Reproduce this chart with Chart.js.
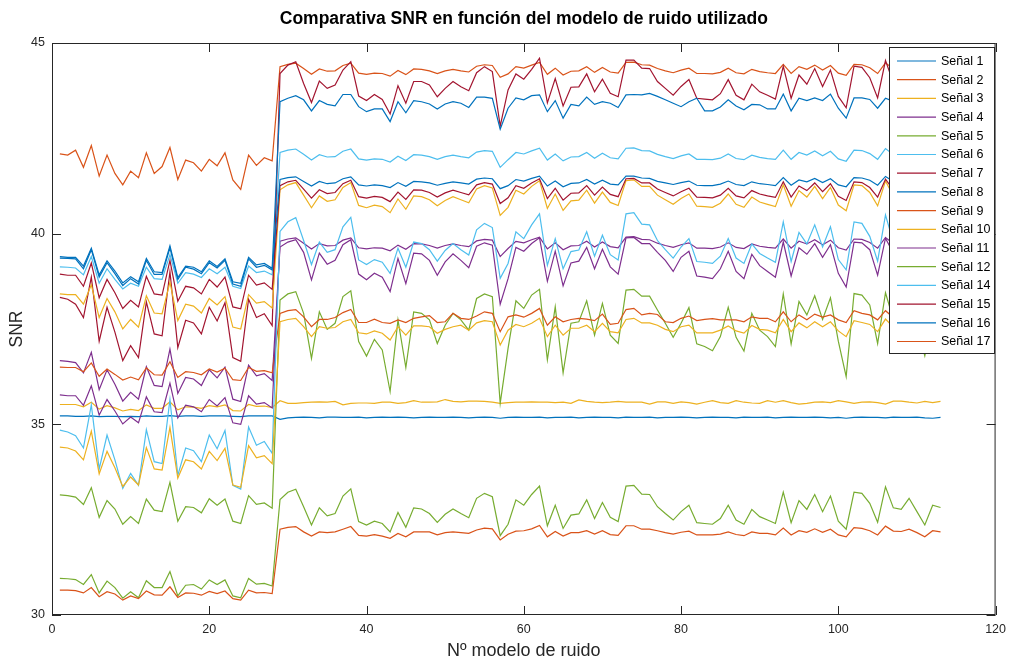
<!DOCTYPE html>
<html lang="es">
<head>
<meta charset="UTF-8">
<title>Comparativa SNR</title>
<script src="https://cdn.jsdelivr.net/npm/chart.js"></script>
<style>
  html, body { margin: 0; padding: 0; background: #fff; }
</style>
</head>
<body>
<canvas id="snrChart" width="1013" height="662"></canvas>
<script>
const FUENTE = '"Liberation Sans", Arial, Helvetica, sans-serif';
const titulo = 'Comparativa SNR en función del modelo de ruido utilizado';

// modelo de ruido 1..113
const modelos = Array.from({length: 113}, (_, i) => i + 1);

const senal1 = [35.22,35.22,35.21,35.21,35.22,35.20,35.21,35.21,35.20,35.21,35.20,35.22,35.21,35.21,35.23,35.21,35.22,35.22,35.21,35.22,35.22,35.22,35.21,35.20,35.22,35.22,35.22,35.22,
  35.13,35.17,35.18,35.19,35.18,35.17,35.19,35.19,35.18,35.18,35.19,35.17,35.18,35.19,35.18,35.19,35.18,35.17,35.18,35.19,
  35.18,35.18,35.19,35.18,35.17,35.18,35.19,35.18,35.16,35.18,35.19,35.18,35.18,35.19,35.17,35.18,35.18,35.19,35.17,35.18,
  35.19,35.18,35.18,35.17,35.19,35.18,35.18,35.19,35.17,35.18,35.18,35.19,35.18,35.17,35.18,35.19,35.18,35.18,35.17,35.19,
  35.18,35.18,35.19,35.17,35.18,35.19,35.18,35.18,35.19,35.18,35.17,35.18,35.16,35.18,35.19,35.18,35.18,35.17,35.19,35.18,
  35.18,35.19,35.17,35.16,35.18];
const senal2 = [42.09,42.06,42.19,41.74,42.31,41.51,42.06,41.58,41.28,41.64,41.47,42.12,41.58,41.76,42.26,41.42,41.93,41.86,41.64,41.95,41.78,42.12,41.41,41.16,42.06,41.79,41.99,41.91,
  44.38,44.44,44.47,44.33,44.18,44.32,44.26,44.27,44.41,44.47,44.21,44.18,44.21,44.20,44.13,44.28,44.17,44.32,44.31,44.27,
  44.20,44.27,44.31,44.27,44.24,44.39,44.43,44.41,44.10,44.19,44.38,44.34,44.42,44.49,44.18,44.34,44.16,44.26,44.27,44.38,
  44.23,44.36,44.24,44.21,44.49,44.50,44.43,44.42,44.33,44.27,44.22,44.29,44.34,44.20,44.20,44.19,44.23,44.34,44.22,44.19,
  44.31,44.25,44.22,44.20,44.44,44.20,44.38,44.31,44.42,44.29,44.41,44.21,44.15,44.44,44.43,44.35,44.20,44.48,44.32,44.31,
  44.39,44.29,44.18,44.34,44.32];
const senal3 = [35.52,35.52,35.52,35.46,35.58,35.40,35.49,35.43,35.35,35.39,35.36,35.51,35.42,35.42,35.59,35.38,35.46,35.45,35.42,35.49,35.46,35.51,35.36,35.35,35.52,35.47,35.48,35.44,
  35.62,35.55,35.55,35.57,35.58,35.59,35.58,35.60,35.51,35.55,35.56,35.56,35.55,35.58,35.58,35.55,35.57,35.62,35.58,35.58,
  35.59,35.65,35.60,35.59,35.61,35.61,35.60,35.58,35.55,35.57,35.58,35.58,35.59,35.58,35.58,35.57,35.58,35.55,35.64,35.60,
  35.58,35.57,35.58,35.60,35.58,35.58,35.58,35.53,35.59,35.59,35.55,35.59,35.57,35.53,35.58,35.62,35.57,35.55,35.62,35.58,
  35.56,35.55,35.62,35.58,35.62,35.57,35.53,35.55,35.58,35.59,35.57,35.62,35.59,35.55,35.58,35.59,35.57,35.53,35.61,35.61,
  35.58,35.56,35.60,35.57,35.60];
const senal4 = [36.67,36.65,36.62,36.35,36.89,35.91,36.43,36.05,35.61,35.84,35.66,36.51,36.02,35.99,36.97,35.81,36.23,36.19,36.02,36.43,36.22,36.50,35.66,35.60,36.55,36.27,36.33,36.15,
  39.65,39.78,39.84,39.51,38.79,39.49,39.20,39.30,39.71,39.84,38.94,38.79,38.96,38.86,38.48,39.35,38.69,39.49,39.47,39.30,
  38.91,39.26,39.47,39.30,39.11,39.67,39.76,39.70,38.15,38.82,39.64,39.54,39.74,39.89,38.75,39.54,38.63,39.23,39.28,39.64,
  39.08,39.59,39.13,38.94,39.89,39.90,39.74,39.74,39.51,39.30,39.01,39.38,39.54,38.89,38.86,38.82,39.08,39.54,39.01,38.82,
  39.46,39.16,39.01,38.86,39.78,38.89,39.63,39.46,39.74,39.38,39.71,38.96,38.60,39.78,39.76,39.58,38.91,39.88,39.49,39.46,
  39.67,39.38,38.79,39.54,39.50];
const senal5 = [33.15,33.13,33.09,32.90,33.34,32.56,33.00,32.78,32.38,32.58,32.40,33.04,32.75,32.71,33.48,32.46,32.84,32.82,32.68,33.05,32.88,33.04,32.46,32.40,33.13,32.90,32.94,32.80,
  38.26,38.42,38.48,37.91,36.73,37.95,37.49,37.65,38.35,38.50,37.17,36.79,37.23,36.95,35.86,37.74,36.49,37.95,37.91,37.74,
  37.12,37.60,37.91,37.74,37.47,38.30,38.42,38.35,35.55,36.99,38.24,38.04,38.39,38.54,36.69,38.08,36.35,37.65,37.69,38.24,
  37.34,38.17,37.34,37.12,38.52,38.54,38.36,38.36,38.00,37.65,37.28,37.65,38.06,37.11,37.04,36.93,37.30,38.07,37.28,36.92,
  37.91,37.47,37.30,37.04,38.42,37.11,38.22,37.87,38.37,37.75,38.32,37.18,36.25,38.43,38.39,38.13,37.12,38.45,37.75,37.70,
  38.05,37.60,36.80,37.85,37.75];
const senal6 = [39.13,39.12,39.10,38.92,39.40,38.70,39.08,38.80,38.55,38.70,38.62,39.12,38.82,38.80,39.45,38.70,38.98,38.94,38.85,39.08,38.95,39.12,38.62,38.56,39.15,38.98,39.02,38.92,
  42.13,42.19,42.22,42.08,41.93,42.07,42.01,42.02,42.16,42.22,41.96,41.93,41.96,41.95,41.88,42.03,41.92,42.07,42.06,42.02,
  41.95,42.02,42.06,42.02,41.99,42.14,42.18,42.16,41.74,41.94,42.13,42.09,42.17,42.24,41.93,42.09,41.91,42.01,42.02,42.13,
  41.98,42.11,41.99,41.96,42.24,42.25,42.18,42.17,42.08,42.02,41.97,42.04,42.09,41.95,41.95,41.94,41.98,42.09,41.97,41.94,
  42.06,42.00,41.97,41.95,42.19,41.95,42.13,42.06,42.17,42.04,42.16,41.96,41.90,42.19,42.18,42.10,41.95,42.23,42.07,42.06,
  42.14,42.04,41.93,42.09,42.07];
const senal7 = [38.33,38.28,38.15,37.80,38.86,37.18,38.07,37.42,36.67,37.06,36.75,38.21,37.37,37.32,39.00,37.01,37.73,37.66,37.37,38.07,37.71,38.19,36.75,36.65,38.28,37.80,37.90,37.59,
  44.20,44.42,44.51,43.94,43.44,44.00,43.81,43.90,44.29,44.51,43.61,43.49,43.65,43.52,43.14,43.88,43.42,43.99,43.99,43.90,
  43.59,43.81,43.99,43.85,43.75,44.22,44.38,44.25,42.82,43.77,44.19,44.05,44.31,44.60,43.43,44.07,43.35,43.84,43.85,44.19,
  43.72,44.05,43.68,43.59,44.55,44.55,44.34,44.33,43.99,43.81,43.63,43.86,44.04,43.55,43.53,43.51,43.67,44.04,43.63,43.51,
  43.92,43.72,43.63,43.53,44.39,43.55,44.16,43.92,44.33,43.86,44.29,43.60,43.30,44.39,44.36,44.09,43.56,44.54,43.96,43.92,
  44.23,43.86,43.49,44.04,43.97];
const senal8 = [39.40,39.38,39.38,39.15,39.62,38.92,39.29,39.02,38.71,38.87,38.74,39.35,39.00,38.98,39.68,38.85,39.15,39.12,39.00,39.29,39.14,39.34,38.74,38.70,39.38,39.18,39.22,39.09,
  43.46,43.55,43.62,43.51,43.22,43.49,43.39,43.35,43.65,43.65,43.33,43.20,43.27,43.27,42.94,43.46,43.17,43.49,43.46,43.40,
  43.27,43.40,43.46,43.42,43.31,43.58,43.58,43.55,42.74,43.29,43.56,43.51,43.62,43.64,43.20,43.49,43.03,43.39,43.35,43.58,
  43.39,43.46,43.42,43.31,43.64,43.65,43.64,43.68,43.60,43.51,43.42,43.33,43.46,43.55,43.22,43.22,43.32,43.51,43.35,43.25,
  43.39,43.38,43.27,43.27,43.66,43.22,43.55,43.49,43.56,43.49,43.66,43.29,43.03,43.56,43.56,43.52,43.29,43.55,43.47,43.46,
  43.57,43.43,43.29,43.50,43.48];
const senal9 = [36.50,36.49,36.49,36.38,36.61,36.26,36.45,36.31,36.16,36.24,36.17,36.48,36.30,36.29,36.64,36.23,36.38,36.36,36.30,36.45,36.37,36.47,36.17,36.15,36.49,36.39,36.41,36.35,
  37.91,37.98,38.01,37.82,37.56,37.75,37.75,37.80,37.93,38.01,37.67,37.67,37.76,37.67,37.65,37.74,37.67,37.78,37.82,37.85,
  37.67,37.69,37.91,37.78,37.75,37.84,37.95,37.91,37.43,37.82,37.87,37.81,37.91,38.04,37.60,37.82,37.69,37.75,37.78,37.76,
  37.72,37.89,37.62,37.65,38.01,38.04,37.87,37.91,37.88,37.69,37.67,37.78,37.84,37.72,37.75,37.77,37.74,37.74,37.74,37.69,
  37.82,37.78,37.78,37.69,37.95,37.69,37.87,37.74,37.89,37.81,37.87,37.74,37.67,37.98,37.91,37.87,37.74,37.98,37.80,37.78,
  37.88,37.76,37.65,37.82,37.80];
const senal10 = [38.42,38.40,38.40,38.15,38.66,37.80,38.30,37.95,37.50,37.75,37.55,38.37,37.92,37.90,38.73,37.72,38.15,38.10,37.92,38.30,38.13,38.35,37.55,37.50,38.40,38.18,38.22,38.05,
  41.15,41.28,41.34,41.01,40.68,40.99,40.85,40.89,41.21,41.34,40.74,40.68,40.75,40.71,40.55,40.91,40.64,40.99,40.97,40.89,
  40.73,40.87,40.97,40.89,40.81,41.17,41.26,41.20,40.48,40.69,41.14,41.04,41.24,41.39,40.66,41.04,40.61,40.86,40.88,41.14,
  40.80,41.09,40.82,40.74,41.39,41.41,41.24,41.24,41.01,40.89,40.77,40.92,41.04,40.72,40.71,40.69,40.80,41.04,40.77,40.69,
  40.96,40.83,40.77,40.71,41.28,40.72,41.13,40.96,41.24,40.92,41.21,40.75,40.60,41.28,41.26,41.08,40.73,41.38,40.99,40.96,
  41.17,40.92,40.68,41.04,41.00];
const senal11 = [35.77,35.75,35.75,35.50,36.01,35.24,35.65,35.35,35.01,35.19,35.04,35.72,35.33,35.31,36.08,35.17,35.50,35.46,35.33,35.65,35.48,35.70,35.04,35.00,35.75,35.53,35.57,35.43,
  39.80,39.86,39.89,39.75,39.60,39.74,39.68,39.69,39.83,39.89,39.63,39.60,39.63,39.62,39.55,39.70,39.59,39.74,39.73,39.69,
  39.62,39.69,39.73,39.69,39.66,39.81,39.85,39.83,39.40,39.61,39.80,39.76,39.84,39.91,39.60,39.76,39.58,39.68,39.69,39.80,
  39.65,39.78,39.66,39.63,39.91,39.92,39.85,39.84,39.75,39.69,39.64,39.71,39.76,39.62,39.62,39.61,39.65,39.76,39.64,39.61,
  39.73,39.67,39.64,39.62,39.86,39.62,39.80,39.73,39.84,39.71,39.83,39.63,39.57,39.86,39.85,39.77,39.62,39.90,39.74,39.73,
  39.81,39.71,39.60,39.76,39.74];
const senal12 = [30.96,30.95,30.93,30.80,31.06,30.58,30.89,30.72,30.44,30.61,30.45,30.90,30.72,30.72,31.14,30.50,30.78,30.80,30.68,30.92,30.80,30.92,30.50,30.45,30.96,30.81,30.83,30.76,
  33.03,33.22,33.30,32.84,32.36,32.81,32.60,32.66,33.12,33.31,32.45,32.36,32.46,32.40,32.18,32.69,32.30,32.81,32.78,32.66,
  32.43,32.64,32.78,32.66,32.55,33.06,33.19,33.10,32.08,32.38,33.02,32.88,33.16,33.38,32.34,32.88,32.27,32.62,32.65,33.02,
  32.53,32.95,32.56,32.45,33.38,33.40,33.17,33.16,32.84,32.66,32.49,32.71,32.88,32.42,32.40,32.38,32.53,32.88,32.49,32.38,
  32.77,32.58,32.49,32.40,33.22,32.42,33.00,32.77,33.16,32.71,33.12,32.46,32.25,33.22,33.19,32.93,32.43,33.36,32.81,32.77,
  33.06,32.71,32.36,32.88,32.82];
const senal14 = [34.85,34.80,34.70,34.38,35.51,33.83,34.72,34.07,33.32,33.71,33.40,34.86,34.02,33.97,35.65,33.66,34.38,34.31,34.02,34.72,34.36,34.84,33.40,33.30,34.93,34.45,34.55,34.24,
  40.06,40.31,40.42,39.82,39.19,39.78,39.51,39.58,40.18,40.43,39.31,39.19,39.32,39.25,38.96,39.62,39.12,39.78,39.74,39.58,
  39.28,39.56,39.74,39.58,39.44,40.10,40.27,40.16,38.83,39.22,40.05,39.87,40.23,40.52,39.17,39.87,39.08,39.53,39.57,40.05,
  39.41,39.96,39.45,39.31,40.52,40.55,40.25,40.23,39.82,39.58,39.36,39.65,39.87,39.27,39.25,39.22,39.41,39.87,39.36,39.22,
  39.73,39.48,39.36,39.25,40.31,39.27,40.03,39.73,40.23,39.65,40.18,39.32,39.05,40.31,40.27,39.93,39.28,40.49,39.78,39.73,
  40.10,39.65,39.19,39.87,39.79];
const senal15 = [38.94,38.91,38.91,38.62,39.23,38.32,38.80,38.45,38.04,38.25,38.08,38.88,38.42,38.39,39.30,38.23,38.62,38.58,38.42,38.80,38.60,38.86,38.08,38.03,38.91,38.65,38.71,38.54,
  41.26,41.36,41.40,41.17,40.93,41.15,41.05,41.08,41.31,41.40,40.97,40.93,40.98,40.95,40.84,41.09,40.90,41.15,41.14,41.08,
  40.96,41.07,41.14,41.08,41.02,41.28,41.34,41.30,40.79,40.94,41.26,41.19,41.33,41.44,40.92,41.19,40.88,41.06,41.07,41.26,
  41.01,41.22,41.03,40.97,41.44,41.45,41.33,41.33,41.17,41.08,40.99,41.10,41.19,40.96,40.95,40.94,41.01,41.19,40.99,40.94,
  41.13,41.04,40.99,40.95,41.36,40.96,41.25,41.13,41.33,41.10,41.31,40.98,40.87,41.36,41.34,41.21,40.96,41.43,41.15,41.13,
  41.28,41.10,40.93,41.19,41.16];
const senal16 = [39.36,39.35,39.34,39.08,39.58,38.86,39.24,38.95,38.64,38.82,38.68,39.30,38.93,38.93,39.63,38.80,39.12,39.07,38.95,39.24,39.10,39.30,38.68,38.62,39.34,39.12,39.17,39.05,
  41.42,41.47,41.49,41.37,41.25,41.37,41.31,41.33,41.44,41.49,41.28,41.25,41.28,41.26,41.21,41.34,41.24,41.37,41.36,41.33,
  41.27,41.32,41.36,41.33,41.30,41.43,41.46,41.44,41.18,41.26,41.42,41.38,41.45,41.51,41.25,41.38,41.23,41.32,41.33,41.42,
  41.30,41.40,41.30,41.28,41.51,41.51,41.46,41.45,41.37,41.33,41.29,41.34,41.38,41.27,41.26,41.26,41.30,41.38,41.29,41.26,
  41.36,41.31,41.29,41.26,41.47,41.27,41.41,41.36,41.45,41.34,41.44,41.28,41.23,41.47,41.46,41.40,41.27,41.50,41.37,41.36,
  41.43,41.34,41.25,41.38,41.37];
const senal17 = [30.65,30.65,30.64,30.58,30.72,30.48,30.61,30.55,30.39,30.50,30.43,30.63,30.53,30.52,30.74,30.46,30.58,30.57,30.52,30.62,30.56,30.63,30.43,30.39,30.65,30.58,30.59,30.56,
  32.25,32.30,32.32,32.18,32.07,32.18,32.16,32.18,32.25,32.32,32.09,32.07,32.11,32.07,32.01,32.14,32.05,32.18,32.18,32.18,
  32.10,32.16,32.18,32.16,32.14,32.23,32.28,32.26,31.97,32.12,32.20,32.21,32.26,32.35,32.05,32.19,32.07,32.16,32.16,32.21,
  32.12,32.21,32.11,32.09,32.34,32.34,32.25,32.25,32.21,32.16,32.12,32.17,32.20,32.10,32.10,32.10,32.12,32.18,32.11,32.08,
  32.18,32.14,32.14,32.10,32.28,32.10,32.21,32.17,32.26,32.17,32.25,32.10,32.05,32.29,32.27,32.21,32.10,32.33,32.20,32.19,
  32.25,32.16,32.05,32.21,32.18];
// curva 17 del gráfico: sin nombre en la leyenda
const senalExtra = [34.40,34.38,34.30,34.07,34.82,33.70,34.29,33.86,33.37,33.62,33.41,34.39,33.83,33.80,34.92,33.59,34.07,34.02,33.83,34.29,34.05,34.37,33.41,33.35,34.44,34.12,34.18,33.97,
  37.69,37.75,37.78,37.56,37.30,37.56,37.52,37.54,37.69,37.75,37.40,37.37,37.45,37.39,37.21,37.56,37.34,37.58,37.58,37.56,
  37.39,37.49,37.56,37.60,37.47,37.66,37.72,37.69,37.08,37.47,37.62,37.56,37.65,37.78,37.30,37.60,37.34,37.52,37.52,37.60,
  37.43,37.65,37.43,37.40,37.75,37.78,37.66,37.66,37.60,37.49,37.43,37.56,37.60,37.40,37.40,37.40,37.47,37.58,37.45,37.39,
  37.59,37.49,37.47,37.40,37.75,37.43,37.66,37.53,37.69,37.56,37.69,37.45,37.30,37.72,37.67,37.62,37.43,37.76,37.55,37.53,
  37.66,37.50,37.35,37.58,37.55];

const series = [senal1, senal2, senal3, senal4, senal5, senal6, senal7, senal8, senal9, senal10,
  senal11, senal12, senal14, senal15, senal16, senal17, senalExtra];
const nombres = ['Señal 1', 'Señal 2', 'Señal 3', 'Señal 4', 'Señal 5', 'Señal 6', 'Señal 7', 'Señal 8',
  'Señal 9', 'Señal 10', 'Señal 11', 'Señal 12', 'Señal 14', 'Señal 15', 'Señal 16', 'Señal 17', ''];
// orden de colores de MATLAB
const colores = ['#0072BD', '#D95319', '#EDB120', '#7E2F8E', '#77AC30', '#4DBEEE', '#A2142F'];

series.forEach((s, i) => {
  if (s.length !== modelos.length) throw new Error('serie ' + i + ' tiene ' + s.length + ' valores');
});

const datasets = series.map((s, i) => ({
  label: nombres[i],
  data: s.map((v, j) => ({x: modelos[j], y: v})),
  borderColor: colores[i % 7],
  backgroundColor: colores[i % 7],
  borderWidth: 1.2,
  pointRadius: 0,
  tension: 0,
  order: -i // las últimas curvas quedan encima, como en MATLAB
}));

// marco, ticks hacia dentro, título y leyenda estilo MATLAB
const estiloMatlab = {
  id: 'estiloMatlab',
  afterDatasetsDraw(chart) {
    const {ctx, chartArea: a, scales} = chart;
    ctx.save();
    ctx.strokeStyle = '#262626';
    ctx.lineWidth = 1;
    ctx.strokeRect(a.left + 0.5, a.top + 0.5, a.width - 1, a.height - 1);
    ctx.beginPath();
    scales.x.ticks.forEach(t => {
      const px = Math.round(scales.x.getPixelForValue(t.value)) + 0.5;
      ctx.moveTo(px, a.bottom); ctx.lineTo(px, a.bottom - 9);
      ctx.moveTo(px, a.top); ctx.lineTo(px, a.top + 9);
    });
    scales.y.ticks.forEach(t => {
      const py = Math.round(scales.y.getPixelForValue(t.value)) + 0.5;
      ctx.moveTo(a.left, py); ctx.lineTo(a.left + 9, py);
      ctx.moveTo(a.right, py); ctx.lineTo(a.right - 9, py);
    });
    ctx.stroke();

    // título
    ctx.fillStyle = '#000';
    ctx.font = 'bold 17.5px ' + FUENTE;
    ctx.textAlign = 'center';
    ctx.textBaseline = 'middle';
    ctx.fillText(titulo, (a.left + a.right) / 2, 19);

    // leyenda
    const caja = {x: 889.5, y: 47.5, w: 105, h: 306};
    ctx.fillStyle = '#fff';
    ctx.fillRect(caja.x, caja.y, caja.w, caja.h);
    ctx.strokeStyle = '#262626';
    ctx.strokeRect(caja.x, caja.y, caja.w, caja.h);
    ctx.font = '12.5px ' + FUENTE;
    ctx.textAlign = 'left';
    let fila = 0;
    chart.data.datasets.forEach(ds => {
      if (!ds.label) return;
      const y = 61 + fila * 18.7;
      ctx.strokeStyle = ds.borderColor;
      ctx.lineWidth = 1.2;
      ctx.beginPath();
      ctx.moveTo(897, y); ctx.lineTo(936, y);
      ctx.stroke();
      ctx.fillStyle = '#000';
      ctx.fillText(ds.label, 941, y + 0.5);
      fila++;
    });
    ctx.restore();
  }
};

new Chart(document.getElementById('snrChart').getContext('2d'), {
  type: 'line',
  data: { datasets: datasets },
  options: {
    responsive: false,
    animation: false,
    layout: { padding: { top: 43, right: 15, bottom: 0, left: 0 } },
    plugins: {
      legend: { display: false },
      tooltip: { enabled: false },
      title: { display: false }
    },
    scales: {
      x: {
        type: 'linear',
        min: 0, max: 120,
        afterFit(scale) { scale.height = 47; },
        grid: { display: false, drawTicks: false },
        border: { display: false },
        ticks: { stepSize: 20, padding: 7, color: '#262626', font: { family: FUENTE, size: 12.5 } },
        title: { display: true, text: 'Nº modelo de ruido', color: '#262626', padding: { top: 0, bottom: 0 },
          font: { family: FUENTE, size: 18 } }
      },
      y: {
        min: 30, max: 45,
        afterFit(scale) { scale.width = 52; },
        grid: { display: false, drawTicks: false },
        border: { display: false },
        ticks: { stepSize: 5, padding: 7, color: '#262626', font: { family: FUENTE, size: 12.5 } },
        title: { display: true, text: 'SNR', color: '#262626', padding: { top: 7, bottom: 0 },
          font: { family: FUENTE, size: 17.5 } }
      }
    }
  },
  plugins: [estiloMatlab]
});
</script>
</body>
</html>
